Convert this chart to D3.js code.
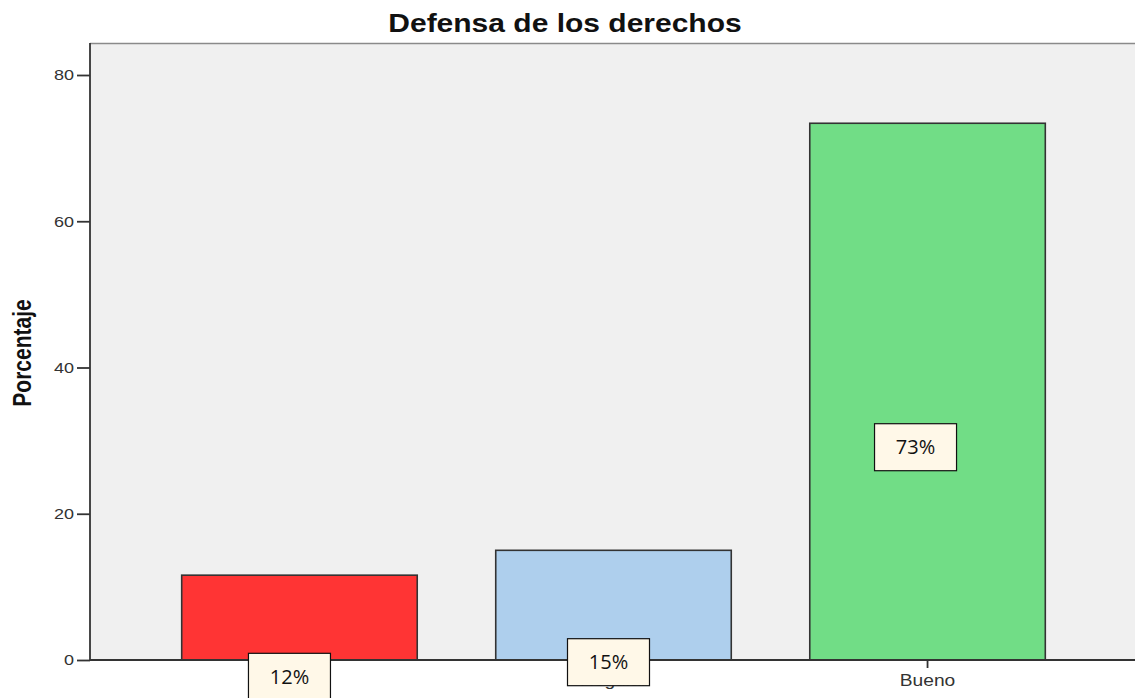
<!DOCTYPE html>
<html>
<head>
<meta charset="utf-8">
<script src="https://cdn.jsdelivr.net/npm/d3@7"></script>
<style>
  body { margin: 0; background: #fff; }
  svg { display: block; }
</style>
</head>
<body>
<script>
const categories = ["Malo", "Regular", "Bueno"];
const values = [11.6, 15.0, 73.4];
const labels = ["12%", "15%", "73%"];
// where the annotation boxes sit, in axis units (centre of box)
const labelAt = [-2.3, -0.3, 29.1];
const labelShift = [-10, -5, -12];
const yTicks = [0, 20, 40, 60, 80];
const colors = ["#ff3434", "#aecfed", "#71dd86"];

const width = 1135, height = 698;
const plotLeft = 90, plotRight = 1137, plotTop = 43, plotBottom = 660;
const stretch = 1.2; // the source picture is a bit wider than tall

const svg = d3.select("body").append("svg")
    .attr("width", width)
    .attr("height", height);

const x = d3.scaleBand()
    .domain(categories)
    .range([plotLeft, plotRight])
    .paddingInner(0.25)
    .paddingOuter(0.292);

const y = d3.scaleLinear()
    .domain([0, 80])
    .range([plotBottom, 75]);

// plot background
svg.append("rect")
    .attr("x", plotLeft)
    .attr("y", plotTop)
    .attr("width", width - plotLeft)
    .attr("height", plotBottom - plotTop)
    .attr("fill", "#f0f0f0");

svg.append("line")
    .attr("x1", plotLeft).attr("x2", width)
    .attr("y1", plotTop + 0.5).attr("y2", plotTop + 0.5)
    .attr("stroke", "#8a8a8a")
    .attr("stroke-width", 1.5);

// bars
svg.selectAll("rect.bar")
    .data(values)
    .enter()
    .append("rect")
    .attr("class", "bar")
    .attr("x", (d, i) => x(categories[i]))
    .attr("y", d => y(d))
    .attr("width", x.bandwidth())
    .attr("height", d => plotBottom - y(d))
    .attr("fill", (d, i) => colors[i])
    .attr("stroke", "#333")
    .attr("stroke-width", 1.6);

// y axis
const yAxis = d3.axisLeft(y).tickValues(yTicks).tickSize(13).tickPadding(3);
const gy = svg.append("g")
    .attr("transform", "translate(" + plotLeft + ",0)")
    .call(yAxis);
gy.select(".domain").attr("d", "M0," + plotTop + "V" + plotBottom)
    .attr("stroke", "#333").attr("stroke-width", 1.8);
gy.selectAll(".tick line").attr("stroke", "#333").attr("stroke-width", 1.8);
gy.selectAll(".tick text")
    .attr("x", -16 / stretch)
    .attr("transform", "scale(" + stretch + ",1)")
    .attr("fill", "#333")
    .style("font-family", "'Liberation Sans', Arial, sans-serif")
    .style("font-size", "15px");

// x axis
const xAxis = d3.axisBottom(x).tickSize(8).tickPadding(7);
const gx = svg.append("g")
    .attr("transform", "translate(0," + plotBottom + ")")
    .call(xAxis);
gx.select(".domain").attr("d", "M" + plotLeft + ",0H" + width)
    .attr("stroke", "#333").attr("stroke-width", 1.8);
gx.selectAll(".tick line").attr("stroke", "#333").attr("stroke-width", 1.8);
gx.selectAll(".tick text")
    .attr("transform", "scale(" + stretch + ",1)")
    .attr("fill", "#333")
    .style("font-family", "'Liberation Sans', Arial, sans-serif")
    .style("font-size", "16px");

// title
svg.append("text")
    .attr("transform", "translate(565,32) scale(" + stretch + ",1)")
    .attr("text-anchor", "middle")
    .style("font-family", "'Liberation Sans', Arial, sans-serif")
    .style("font-weight", "bold")
    .style("font-size", "25px")
    .attr("fill", "#111")
    .text("Defensa de los derechos");

// y label
svg.append("text")
    .attr("transform", "translate(31,353) rotate(-90) scale(1," + stretch + ")")
    .attr("text-anchor", "middle")
    .style("font-family", "'Liberation Sans', Arial, sans-serif")
    .style("font-weight", "bold")
    .style("font-size", "21px")
    .attr("fill", "#111")
    .text("Porcentaje");

// annotation boxes
const boxW = 82, boxH = 47;
const ann = svg.selectAll("g.ann")
    .data(labels)
    .enter()
    .append("g")
    .attr("class", "ann")
    .attr("transform", (d, i) => "translate(" +
        (x(categories[i]) + x.bandwidth() / 2 + labelShift[i]) + "," + y(labelAt[i]) + ")");

ann.append("rect")
    .attr("x", -boxW / 2)
    .attr("y", -boxH / 2)
    .attr("width", boxW)
    .attr("height", boxH)
    .attr("fill", "#fff8e8")
    .attr("stroke", "#111")
    .attr("stroke-width", 1.2);

ann.append("text")
    .attr("text-anchor", "middle")
    .attr("dy", "0.36em")
    .style("font-family", "'Open Sans', 'Noto Sans', sans-serif")
    .style("font-size", "20px")
    .attr("fill", "#111")
    .text(d => d);
</script>
</body>
</html>
